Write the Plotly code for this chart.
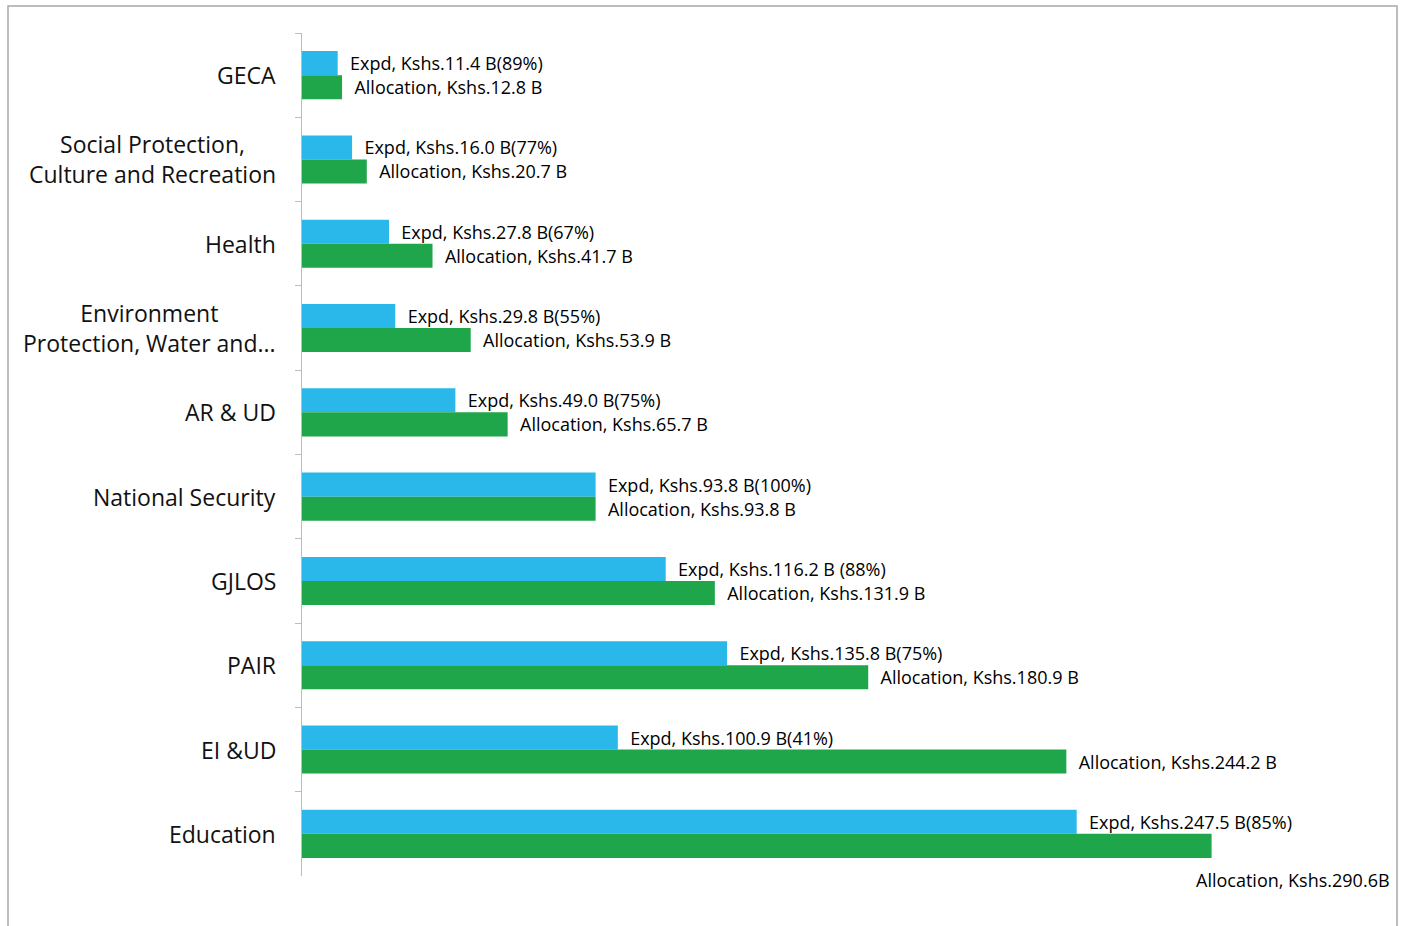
import plotly.graph_objects as go

categories = ["GECA", "Social Protection,<br>Culture and Recreation", "Health",
              "Environment<br>Protection, Water and...", "AR & UD", "National Security",
              "GJLOS", "PAIR", "EI &UD", "Education"]
expd = [11.4, 16.0, 27.8, 29.8, 49.0, 93.8, 116.2, 135.8, 100.9, 247.5]
alloc = [12.8, 20.7, 41.7, 53.9, 65.7, 93.8, 131.9, 180.9, 244.2, 290.6]
expd_labels = ["Expd, Kshs.11.4 B(89%)", "Expd, Kshs.16.0 B(77%)", "Expd, Kshs.27.8 B(67%)",
               "Expd, Kshs.29.8 B(55%)", "Expd, Kshs.49.0 B(75%)", "Expd, Kshs.93.8 B(100%)",
               "Expd, Kshs.116.2 B (88%)", "Expd, Kshs.135.8 B(75%)", "Expd, Kshs.100.9 B(41%)",
               "Expd, Kshs.247.5 B(85%)"]
alloc_labels = ["Allocation, Kshs.12.8 B", "Allocation, Kshs.20.7 B", "Allocation, Kshs.41.7 B",
                "Allocation, Kshs.53.9 B", "Allocation, Kshs.65.7 B", "Allocation, Kshs.93.8 B",
                "Allocation, Kshs.131.9 B", "Allocation, Kshs.180.9 B", "Allocation, Kshs.244.2 B",
                "Allocation, Kshs.290.6B"]

BLUE = "#2AB7EA"
GREEN = "#20A64A"
TXT_FONT = dict(family="Open Sans", size=18, color="#000000")

fig = go.Figure()
fig.add_trace(go.Bar(
    y=categories, x=expd, orientation="h", name="Expd",
    marker=dict(color=BLUE, line=dict(width=0)),
    text=expd_labels, texttemplate="\u00a0\u00a0%{text}", textposition="outside",
    textfont=TXT_FONT, cliponaxis=False, constraintext="none",
))
fig.add_trace(go.Bar(
    y=categories, x=alloc, orientation="h", name="Allocation",
    marker=dict(color=GREEN, line=dict(width=0)),
    text=alloc_labels[:-1] + [""], texttemplate="\u00a0\u00a0%{text}", textposition="outside",
    textfont=TXT_FONT, cliponaxis=False, constraintext="none",
))

W, H = 1404, 926
L, R, T, B = 302, 9, 33, 50
pw = W - L - R
ph = H - T - B


def px_x(px):
    return (px - L) / pw


def px_y(py):
    return (H - B - py) / ph


annotations = []
for c in categories:
    annotations.append(dict(
        x=px_x(278), xref="paper", xanchor="right",
        y=c, yref="y", yanchor="middle",
        text=c, showarrow=False, align="center",
        font=dict(family="Open Sans", size=23, color="#111111"),
    ))
annotations.append(dict(
    x=px_x(1392), xref="paper", xanchor="right",
    y=categories[-1], yref="y", yanchor="middle", yshift=-46,
    text=alloc_labels[-1], showarrow=False, font=TXT_FONT,
))

fig.update_layout(
    width=W, height=H,
    margin=dict(l=L, r=R, t=T, b=B),
    paper_bgcolor="white", plot_bgcolor="white",
    barmode="group", bargap=0.43, bargroupgap=0,
    showlegend=False,
    xaxis=dict(range=[0, pw / 3.13], visible=False, fixedrange=True),
    yaxis=dict(
        type="category", autorange="reversed", showticklabels=False,
        showline=True, linecolor="#BDBDBD", linewidth=1,
        ticks="outside", ticklen=6, tickcolor="#BDBDBD", tickson="boundaries",
        showgrid=False, zeroline=False, fixedrange=True,
    ),
    annotations=annotations,
    shapes=[dict(
        type="rect", xref="paper", yref="paper",
        x0=px_x(8), x1=px_x(1397),
        y0=px_y(940), y1=px_y(6),
        line=dict(color="#A8A8A8", width=1.5), fillcolor="rgba(0,0,0,0)", layer="below",
    )],
)

fig.write_html(
    "out.html",
    config={"displayModeBar": False},
    post_script="document.body.style.margin='0';document.body.style.overflow='hidden';",
)
